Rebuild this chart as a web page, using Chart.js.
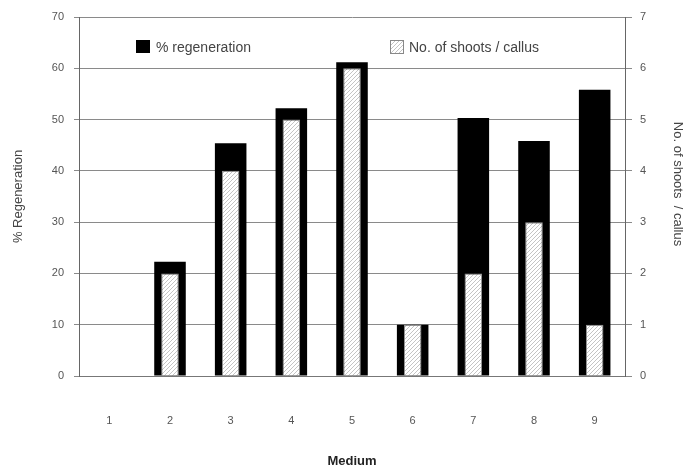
<!DOCTYPE html>
<html>
<head>
<meta charset="utf-8">
<script src="https://cdn.jsdelivr.net/npm/chart.js@4.4.0/dist/chart.umd.min.js"></script>
<style>
  html, body { margin: 0; padding: 0; background: #fff; }
  #wrap { width: 683px; height: 468px; }
</style>
</head>
<body>
<div id="wrap"><canvas id="myChart" width="683" height="468"></canvas></div>
<script>
const media = ["1", "2", "3", "4", "5", "6", "7", "8", "9"];
const regeneration = [0, 22.3, 45.4, 52.2, 61.2, 10, 50.3, 45.8, 55.8];
const shoots = [0, 2, 4, 5, 6, 1, 2, 3, 1];
const leftTicks = [0, 10, 20, 30, 40, 50, 60, 70];
const rightTicks = [0, 1, 2, 3, 4, 5, 6, 7];

const FONT = "'Liberation Sans', Arial, sans-serif";

// diagonal hatch like the old spreadsheet fill
function makeHatch() {
	const c = document.createElement("canvas");
	c.width = 4; c.height = 4;
	const g = c.getContext("2d");
	g.fillStyle = "#fff";
	g.fillRect(0, 0, 4, 4);
	g.strokeStyle = "#c4c4c4";
	g.lineWidth = 1;
	g.beginPath();
	g.moveTo(0, 4); g.lineTo(4, 0);
	g.moveTo(-1, 1); g.lineTo(1, -1);
	g.moveTo(3, 5); g.lineTo(5, 3);
	g.stroke();
	return g.createPattern(c, "repeat");
}
const ctx = document.getElementById("myChart").getContext("2d");
const hatch = makeHatch();

const extras = {
	id: "extras",
	afterDraw(chart) {
		const g = chart.ctx;
		g.save();
		// legend inside plot
		g.fillStyle = "#000";
		g.fillRect(136, 40, 14, 13);
		g.fillStyle = hatch;
		g.fillRect(390, 40, 13, 13);
		g.strokeStyle = "#888";
		g.lineWidth = 1;
		g.strokeRect(390.5, 40.5, 13, 13);
		g.fillStyle = "#444";
		g.font = "14px " + FONT;
		g.textBaseline = "middle";
		g.textAlign = "left";
		g.fillText("% regeneration", 156, 48);
		g.fillText("No. of shoots / callus", 409, 48);
		// right axis title
		g.translate(678, 184);
		g.rotate(Math.PI / 2);
		g.textAlign = "center";
		g.font = "13px " + FONT;
		g.fillText("No. of shoots  / callus", 0, 0);
		g.restore();
	}
};

new Chart(ctx, {
	type: "bar",
	data: {
		labels: media,
		datasets: [{
			label: "No. of shoots / callus",
			data: shoots,
			yAxisID: "y1",
			backgroundColor: hatch,
			borderColor: "#999",
			borderWidth: 1,
			barPercentage: 0.29,
			categoryPercentage: 1,
			grouped: false,
			order: 0
		}, {
			label: "% regeneration",
			data: regeneration,
			yAxisID: "y",
			backgroundColor: "#000",
			borderWidth: 0,
			barPercentage: 0.52,
			categoryPercentage: 1,
			grouped: false,
			order: 1
		}]
	},
	options: {
		responsive: false,
		animation: false,
		layout: { padding: { top: 17, left: 0, right: 0, bottom: 0 } },
		plugins: { legend: { display: false }, tooltip: { enabled: false } },
		scales: {
			x: {
				afterFit: (s) => { s.height = 92; },
				grid: { display: false },
				border: { display: true, color: "#777" },
				ticks: { padding: 30, color: "#555", font: { size: 11, family: FONT } },
				title: {
					display: true, text: "Medium", color: "#222",
					font: { size: 13, weight: "bold", family: FONT, lineHeight: 1 },
					padding: { top: 0, bottom: 0 }
				}
			},
			y: {
				position: "left",
				min: 0, max: 70,
				afterFit: (s) => { s.width = 79; },
				afterBuildTicks: (s) => { s.ticks = leftTicks.map(v => ({ value: v })); },
				grid: { color: "#8a8a8a", tickLength: 5, lineWidth: 1 },
				border: { color: "#666" },
				ticks: { padding: 10, color: "#555", font: { size: 11, family: FONT } },
				title: {
					display: true, text: "% Regeneration", color: "#444",
					font: { size: 13, family: FONT },
					padding: { top: 11, bottom: 0 }
				}
			},
			y1: {
				position: "right",
				min: 0, max: 7,
				afterFit: (s) => { s.width = 58; },
				afterBuildTicks: (s) => { s.ticks = rightTicks.map(v => ({ value: v })); },
				grid: { drawOnChartArea: false, color: "#8a8a8a", tickLength: 7 },
				border: { color: "#666" },
				ticks: { padding: 8, color: "#555", font: { size: 11, family: FONT } }
			}
		}
	},
	plugins: [extras]
});
</script>
</body>
</html>
